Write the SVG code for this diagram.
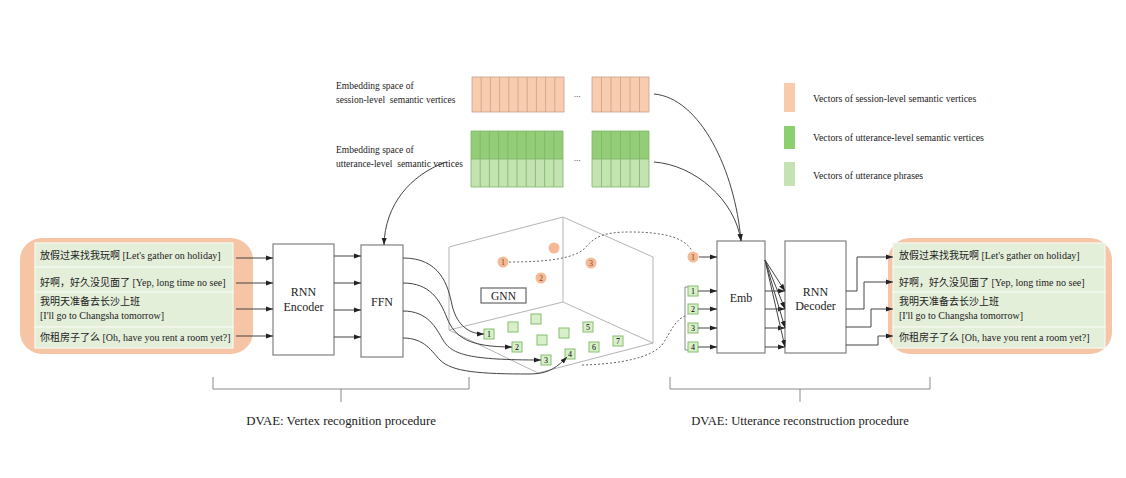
<svg xmlns="http://www.w3.org/2000/svg" width="1126" height="478" viewBox="0 0 1126 478">
<defs>
<marker id="a" markerWidth="7" markerHeight="6" refX="7" refY="3" orient="auto" markerUnits="userSpaceOnUse"><path d="M0,0.5 L7,3 L0,5.5 z" fill="#222"/></marker>
<style>
.t{font-family:"Liberation Serif","Noto Sans CJK SC",serif;fill:#222}
.p{font-size:10px}
.b{font-size:12px;text-anchor:middle}
.s{font-size:9.5px}
.lg{font-size:9.8px}
.n{font-size:8px;text-anchor:middle;font-family:"Liberation Serif",serif}
.ln{fill:none;stroke:#444;stroke-width:1}
.ar{fill:none;stroke:#444;stroke-width:1;marker-end:url(#a)}
.dot{fill:none;stroke:#666;stroke-width:1;stroke-dasharray:2 2}
.box{fill:#fff;stroke:#808080;stroke-width:1.2}
.row{fill:#e4efda;stroke:#f6f9f2;stroke-width:1.2}
.panel{fill:#f6c5a6}
.cube{fill:none;stroke:#b4b4b4;stroke-width:1}
.sq{fill:#d9efcb;stroke:#86be6c;stroke-width:1}
.oc{fill:#f5b996}
.pc{fill:#f8ccaf;stroke:#c9a08a;stroke-width:0.8}
.gd{fill:#93cd78}
.gl{fill:#c3e3b0}
.gc{fill:none;stroke:#7fb468;stroke-width:0.8}
.br{fill:none;stroke:#8a8a8a;stroke-width:1}
</style>
</defs>

<g id="embedding-session">
<text class="t s" x="336" y="89">Embedding space of</text>
<text class="t s" x="336" y="103" xml:space="preserve">session-level  semantic vertices</text>
<rect class="pc" x="472" y="77" width="92" height="35"/>
<path class="pc" d="M481.2,77V112M490.4,77V112M499.6,77V112M508.8,77V112M518,77V112M527.2,77V112M536.4,77V112M545.6,77V112M554.8,77V112"/>
<text class="t" x="577" y="97" font-size="9" text-anchor="middle">...</text>
<rect class="pc" x="592" y="77" width="57" height="35"/>
<path class="pc" d="M601.5,77V112M611,77V112M620.5,77V112M630,77V112M639.5,77V112"/>
</g>

<g id="embedding-utterance">
<text class="t s" x="336" y="153">Embedding space of</text>
<text class="t s" x="336" y="167" xml:space="preserve">utterance-level  semantic vertices</text>
<rect class="gd" x="471" y="131" width="92" height="28"/>
<rect class="gl" x="471" y="159" width="92" height="28"/>
<path class="gc" d="M471,131H563V187H471ZM471,159H563M480.2,131V187M489.4,131V187M498.6,131V187M507.8,131V187M517,131V187M526.2,131V187M535.4,131V187M544.6,131V187M553.8,131V187"/>
<text class="t" x="577" y="161" font-size="9" text-anchor="middle">...</text>
<rect class="gd" x="592" y="131" width="57" height="28"/>
<rect class="gl" x="592" y="159" width="57" height="28"/>
<path class="gc" d="M592,131H649V187H592ZM592,159H649M601.5,131V187M611,131V187M620.5,131V187M630,131V187M639.5,131V187"/>
</g>

<g id="legend">
<rect x="784" y="83" width="11" height="29" fill="#f8cbad"/>
<text class="t lg" x="813" y="102">Vectors of session-level semantic vertices</text>
<rect x="784" y="126" width="11" height="23" fill="#8ccf6f"/>
<text class="t lg" x="813" y="141">Vectors of utterance-level semantic vertices</text>
<rect x="784" y="162" width="11" height="24" fill="#c5e3b2"/>
<text class="t lg" x="813" y="179">Vectors of utterance phrases</text>
</g>

<g id="input-panel">
<rect class="panel" x="20" y="238" width="233" height="116" rx="22"/>
<rect class="row" x="35" y="243" width="198" height="24"/>
<rect class="row" x="35" y="267" width="198" height="25"/>
<rect class="row" x="35" y="292" width="198" height="35"/>
<rect class="row" x="35" y="327" width="198" height="21"/>
<text class="t p" x="40" y="259">放假过来找我玩啊 [Let's gather on holiday]</text>
<text class="t p" x="40" y="286">好啊，好久没见面了 [Yep, long time no see]</text>
<text class="t p" x="40" y="305">我明天准备去长沙上班</text>
<text class="t p" x="40" y="319">[I'll go to Changsha tomorrow]</text>
<text class="t p" x="40" y="341">你租房子了么 [Oh, have you rent a room yet?]</text>
</g>

<g id="rnn-encoder">
<rect class="box" x="273" y="244" width="61" height="111"/>
<text class="t b" x="303.5" y="296">RNN</text>
<text class="t b" x="303.5" y="311">Encoder</text>
</g>

<g id="ffn">
<rect class="box" x="361" y="245" width="42" height="112"/>
<text class="t b" x="382" y="306">FFN</text>
</g>

<g id="gnn-cube">
<path class="cube" d="M449,247V330M449,247L563,217V302M563,217L653,257V343M449,330L563,302L653,343L538,373Z"/>
<rect x="481" y="288" width="45" height="15" fill="#fff" stroke="#666" stroke-width="1.2"/>
<text class="t" x="503.5" y="300" font-size="11.5" text-anchor="middle">GNN</text>
<circle class="oc" cx="554" cy="248" r="5.5"/>
<circle class="oc" cx="503" cy="262" r="5.5"/>
<text class="n" x="503" y="265" fill="#7a4a30">1</text>
<circle class="oc" cx="541" cy="278" r="5.5"/>
<text class="n" x="541" y="281" fill="#7a4a30">2</text>
<circle class="oc" cx="591" cy="263" r="5.5"/>
<text class="n" x="591" y="266" fill="#7a4a30">3</text>
<rect class="sq" x="508" y="322" width="10" height="10"/>
<rect class="sq" x="531" y="314" width="10" height="10"/>
<rect class="sq" x="537" y="335" width="10" height="10"/>
<rect class="sq" x="559" y="328" width="10" height="10"/>
<rect class="sq" x="484" y="329" width="10" height="10"/>
<text class="n" x="489" y="337">1</text>
<rect class="sq" x="512" y="342" width="10" height="10"/>
<text class="n" x="517" y="350">2</text>
<rect class="sq" x="541" y="355" width="10" height="10"/>
<text class="n" x="546" y="363">3</text>
<rect class="sq" x="565" y="349" width="10" height="10"/>
<text class="n" x="570" y="357">4</text>
<rect class="sq" x="583" y="322" width="10" height="10"/>
<text class="n" x="588" y="330">5</text>
<rect class="sq" x="589" y="342" width="10" height="10"/>
<text class="n" x="594" y="350">6</text>
<rect class="sq" x="613" y="336" width="10" height="10"/>
<text class="n" x="618" y="344">7</text>
</g>

<g id="emb-inputs">
<circle class="oc" cx="693" cy="257" r="5.5"/>
<text class="n" x="693" y="260" fill="#7a4a30">1</text>
<path class="br" d="M689,287H685V350H689"/>
<rect class="sq" x="688" y="286" width="10" height="10"/>
<text class="n" x="693" y="294">1</text>
<rect class="sq" x="688" y="304" width="10" height="10"/>
<text class="n" x="693" y="312">2</text>
<rect class="sq" x="688" y="323" width="10" height="10"/>
<text class="n" x="693" y="331">3</text>
<rect class="sq" x="688" y="342" width="10" height="10"/>
<text class="n" x="693" y="350">4</text>
</g>

<g id="emb">
<rect class="box" x="717" y="241" width="48" height="112"/>
<text class="t b" x="741" y="302">Emb</text>
</g>

<g id="rnn-decoder">
<rect class="box" x="785" y="241" width="61" height="112"/>
<text class="t b" x="815.5" y="296">RNN</text>
<text class="t b" x="815.5" y="310">Decoder</text>
</g>

<g id="output-panel">
<rect class="panel" x="888" y="238" width="224" height="116" rx="22"/>
<rect class="row" x="893" y="243" width="212" height="24"/>
<rect class="row" x="893" y="267" width="212" height="25"/>
<rect class="row" x="893" y="292" width="212" height="35"/>
<rect class="row" x="893" y="327" width="212" height="21"/>
<text class="t p" x="899" y="259">放假过来找我玩啊 [Let's gather on holiday]</text>
<text class="t p" x="899" y="286">好啊，好久没见面了 [Yep, long time no see]</text>
<text class="t p" x="899" y="305">我明天准备去长沙上班</text>
<text class="t p" x="899" y="319">[I'll go to Changsha tomorrow]</text>
<text class="t p" x="899" y="341">你租房子了么 [Oh, have you rent a room yet?]</text>
</g>

<g id="connectors">
<path class="ar" d="M236,258H273"/>
<path class="ar" d="M236,283H273"/>
<path class="ar" d="M236,309H273"/>
<path class="ar" d="M236,336H273"/>
<path class="ar" d="M334,256H361"/>
<path class="ar" d="M334,283H361"/>
<path class="ar" d="M334,310H361"/>
<path class="ar" d="M334,337H361"/>
<path class="ar" d="M446,162C410,175 385,205 384,245"/>
<path class="ar" d="M403,258C440,258 448,285 452,305C456,322 466,334 484,334"/>
<path class="ar" d="M403,283C430,283 440,300 447,318C455,338 470,347 512,347"/>
<path class="ar" d="M403,311C428,311 436,328 443,340C452,355 470,360 541,360"/>
<path class="ar" d="M403,338C425,338 432,352 440,360C452,372 480,374 530,374C550,374 558,366 567,357"/>
<path class="dot" d="M509,262C550,262 575,258 585,248C595,236 605,232 630,232C665,232 685,238 692,251"/>
<path class="dot" d="M582,365C620,364 650,358 662,345C672,330 675,320 685,316"/>
<path class="ar" d="M654,94C700,98 735,170 741,241"/>
<path class="ar" d="M654,162C695,165 735,200 741,241"/>
<path class="ar" d="M699,257H717"/>
<path class="ar" d="M698,291H717"/>
<path class="ar" d="M698,309H717"/>
<path class="ar" d="M698,328H717"/>
<path class="ar" d="M698,347H717"/>
<path class="ar" d="M765,291H785"/>
<path class="ar" d="M765,309H785"/>
<path class="ar" d="M765,328H785"/>
<path class="ar" d="M765,347H785"/>
<path class="ar" d="M765,260L785,291"/>
<path class="ar" d="M765,260L785,309"/>
<path class="ar" d="M765,260L785,328"/>
<path class="ar" d="M765,260L785,347"/>
<path class="ar" d="M846,291H857V257H893"/>
<path class="ar" d="M846,309H864V282H893"/>
<path class="ar" d="M846,327H871V309H893"/>
<path class="ar" d="M846,345H878V336H893"/>
</g>

<g id="recognition-label">
<path class="br" d="M213,377V389H469V377M341,389V402"/>
<text class="t" x="341" y="425" font-size="12.8" text-anchor="middle">DVAE: Vertex recognition procedure</text>
</g>

<g id="reconstruction-label">
<path class="br" d="M670,377V389H930V377M800,389V402"/>
<text class="t" x="800" y="425" font-size="12.6" text-anchor="middle">DVAE: Utterance reconstruction procedure</text>
</g>
</svg>
